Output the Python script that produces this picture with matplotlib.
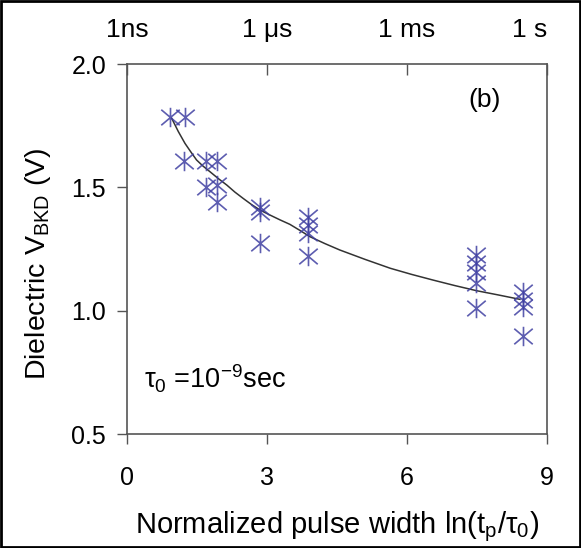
import matplotlib
matplotlib.use("Agg")
import matplotlib.pyplot as plt
from matplotlib.patches import Rectangle
from matplotlib.path import Path

plt.rcParams["font.family"] = ["Liberation Sans", "DejaVu Sans"]
plt.rcParams["mathtext.fontset"] = "custom"
plt.rcParams["mathtext.rm"] = "Liberation Sans"
plt.rcParams["mathtext.it"] = "Liberation Sans:italic"
plt.rcParams["mathtext.default"] = "regular"

# measured breakdown points
x_pts = [0.92, 1.24, 1.22, 1.69, 1.92, 1.69, 1.92, 1.92,
         2.86, 2.86, 2.86, 3.87, 3.87, 3.87, 3.87,
         7.48, 7.48, 7.48, 7.48, 7.48, 8.48, 8.48, 8.48, 8.48]
v_pts = [1.786, 1.786, 1.607, 1.607, 1.607, 1.503, 1.51, 1.442,
         1.421, 1.401, 1.276, 1.381, 1.347, 1.314, 1.222,
         1.226, 1.192, 1.158, 1.111, 1.010, 1.077, 1.043, 1.016, 0.897]

# fitted curve as traced
x_fit = [0.957, 1.1, 1.243, 1.37, 1.49, 1.63, 1.78, 1.96, 2.14, 2.31,
         2.49, 2.67, 2.85, 3.06, 3.28, 3.49, 3.70, 3.92, 4.24, 4.56,
         5.1, 5.64, 6.1, 6.56, 7.02, 7.49, 7.95, 8.42]
v_fit = [1.780, 1.726, 1.678, 1.643, 1.611, 1.586, 1.563, 1.535, 1.509, 1.481,
         1.455, 1.430, 1.408, 1.388, 1.368, 1.350, 1.326, 1.300, 1.272, 1.246,
         1.208, 1.172, 1.147, 1.124, 1.102, 1.081, 1.064, 1.046]

x_ticks = [0, 3, 6, 9]
y_ticks = [0.5, 1.0, 1.5, 2.0]
top_labels = ["1ns", "1 \u03bcs", "1 ms", "1 s"]

# asterisk: vertical bar crossed by a steep X
star = Path([(0, -1), (0, 1), (-0.95, -0.8), (0.95, 0.8), (-0.95, 0.8), (0.95, -0.8)],
            [Path.MOVETO, Path.LINETO] * 3)

fig = plt.figure(figsize=(5.81, 5.48), dpi=100)
ax = fig.add_axes([0.2186, 0.208, 0.7229, 0.6752])

ax.plot(x_fit, v_fit, color="#333333", lw=1.1, zorder=2)
ax.plot(x_pts, v_pts, ls="none", marker=star, ms=14, mew=1.2,
        color="#4040a2", alpha=0.85, zorder=3)

ax.set_xlim(0, 9)
ax.set_ylim(0.5, 2.0)
ax.set_xticks(x_ticks)
ax.set_yticks(y_ticks)
ax.set_yticklabels([f"{v:.1f}" for v in y_ticks])

for s in ax.spines.values():
    s.set_color("#555555")
    s.set_linewidth(1.2)

ax.tick_params(axis="both", direction="out", length=7, width=1.0,
               color="#555555", labelsize=18, pad=8)
ax.tick_params(axis="x", pad=16)

top = ax.secondary_xaxis("top")
top.set_xticks(x_ticks)
top.set_xticklabels(top_labels)
top.tick_params(direction="in", length=8, width=1.0, color="#555555",
                labelsize=19, pad=16)
top.spines["top"].set_visible(False)
top.get_xticklabels()[-1].set_ha("right")

ax.set_xlabel(r"Normalized pulse width ln(t$_p$/$\tau_0$)", fontsize=21,
              va="center")
ax.xaxis.set_label_coords(0.50, -0.251)
ax.set_ylabel(r"Dielectric V$_{BKD}$ (V)", fontsize=20.5, va="center")
ax.yaxis.set_label_coords(-0.212, 0.46)

ax.text(0.04, 0.148, r"$\tau_0$ =10$^{-9}$sec", transform=ax.transAxes,
        fontsize=19.5, ha="left", va="center")
ax.text(0.852, 0.903, "(b)", transform=ax.transAxes, fontsize=19,
        ha="center", va="center")

fig.patches.append(Rectangle((0.002, 0.002), 0.996, 0.996,
                             transform=fig.transFigure, fill=False,
                             edgecolor="black", lw=2))

fig.savefig("out.png", dpi=100)
